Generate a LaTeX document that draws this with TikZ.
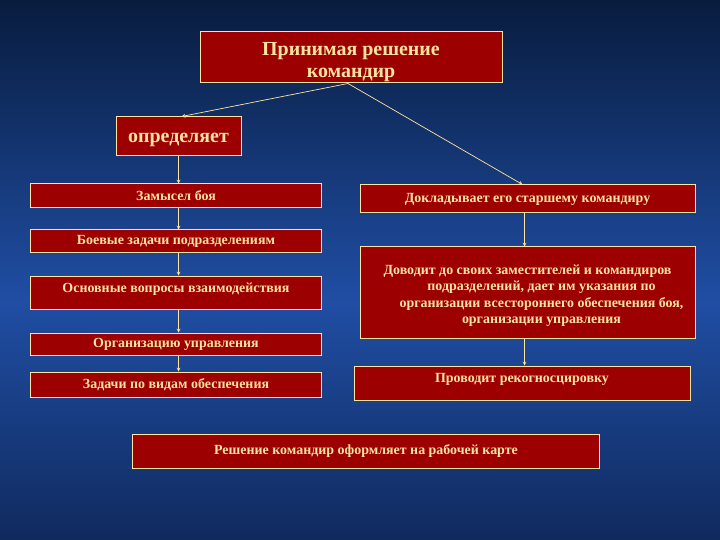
\documentclass[tikz,border=0pt]{standalone}
\usepackage{fontspec}
\setmainfont{Liberation Serif}
\usetikzlibrary{calc,arrows}
\definecolor{boxred}{RGB}{156,0,0}
\definecolor{cream}{RGB}{255,228,160}
\definecolor{navy}{RGB}{8,28,62}
\definecolor{midblue}{RGB}{32,78,164}
\definecolor{lowblue}{RGB}{16,42,94}

\begin{document}
\begin{tikzpicture}[x=1bp,y=-1bp,
	box/.style={draw=cream,line width=1bp,fill=boxred,text=cream,font=\bfseries\fontsize{14}{16.3}\selectfont,align=center,inner sep=0pt},
	bigbox/.style={box,font=\bfseries\fontsize{20}{22}\selectfont},
	link/.style={draw=cream,line width=0.7bp,-stealth,shorten >=0pt}]
	\useasboundingbox (0,0) rectangle (720,540);
	\fill[top color=navy,bottom color=midblue] (0,0) rectangle (720,300);
	\fill[top color=midblue,bottom color=lowblue] (0,300) rectangle (720,540);
	\node (top) [bigbox,minimum width=302bp,minimum height=51bp] at (351,57.5) {\rule{0pt}{22bp}Принимая решение\\командир};
	\node (opred) [bigbox,minimum width=125bp,minimum height=39bp,text height=17bp] at (178.5,136.5) {определяет};
	\node (zam) [box,minimum width=290bp,minimum height=24bp] at (176,196) {Замысел боя};
	\node (boev) [box,minimum width=290bp,minimum height=23bp] at (176,241.5) {Боевые задачи подразделениям};
	\node (osn) [box,minimum width=290bp,minimum height=33bp,text depth=9bp] at (176,292.5) {Основные вопросы взаимодействия};
	\node (org) [box,minimum width=290bp,minimum height=22bp] at (176,344) {Организацию управления};
	\node (zad) [box,minimum width=290bp,minimum height=25bp] at (176,384.5) {Задачи по видам обеспечения};
	\node (dokl) [box,minimum width=335bp,minimum height=28bp] at (527.5,199) {Докладывает его старшему командиру};
	\node (dovod) [box,minimum width=335bp,minimum height=91bp] at (527.5,292.5) {\rule{0pt}{16bp}Доводит до своих заместителей и командиров\\
		\hspace*{28bp}подразделений, дает им указания по\\
		\hspace*{28bp}организации всестороннего обеспечения боя,\\
		\hspace*{28bp}организации управления};
	\node (prov) [box,minimum width=336bp,minimum height=34bp,text depth=10bp] at (522,383) {Проводит рекогносцировку};
	\node (resh) [box,minimum width=466bp,minimum height=34bp] at (366,451) {Решение командир оформляет на рабочей карте};
	\draw[link] ($(top.south)+(-3,0)$) -- ($(opred.north)+(3,0)$);
	\draw[link] ($(top.south)+(-3,0)$) -- ($(dokl.north)+(-5,0)$);
	\draw[link] (opred.south) -- (opred.south |- zam.north);
	\draw[link] (opred.south |- zam.south) -- (opred.south |- boev.north);
	\draw[link] (opred.south |- boev.south) -- (opred.south |- osn.north);
	\draw[link] (opred.south |- osn.south) -- (opred.south |- org.north);
	\draw[link] (opred.south |- org.south) -- (opred.south |- zad.north);
	\draw[link] ($(dokl.south)+(-3,0)$) -- ($(dovod.north)+(-3,0)$);
	\draw[link] ($(dovod.south)+(-3,0)$) -- ($(dovod.south |- prov.north)+(-3,0)$);
\end{tikzpicture}
\end{document}
